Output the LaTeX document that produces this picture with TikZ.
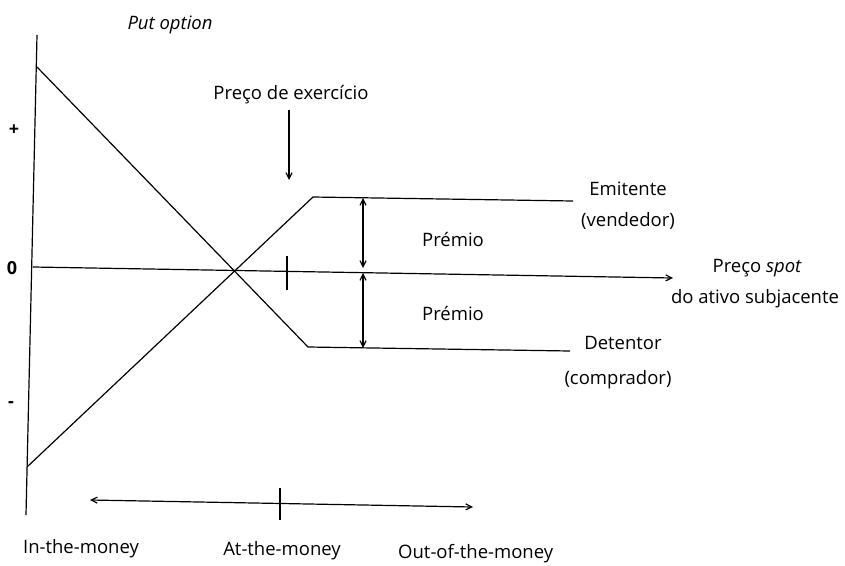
\documentclass[tikz,border=0pt]{standalone}
\usepackage{fontspec}
\setmainfont{Open Sans}
\usetikzlibrary{arrows.meta}
\begin{document}
\begin{tikzpicture}[x=1pt,y=-1pt,
  curve/.style={line width=1.2pt},
  axisline/.style={line width=1.2pt},
  tip/.style={-{Straight Barb[length=6pt,width=6pt]}},
  dtip/.style={{Straight Barb[length=6pt,width=6pt]}-{Straight Barb[length=6pt,width=6pt]}},
  lbl/.style={font=\fontsize{18.5}{20}\selectfont, inner sep=0pt},
  sgn/.style={font=\fontsize{18}{20}\selectfont\bfseries, inner sep=0pt}]
\useasboundingbox (0,0) rectangle (845,565);
% axes
\coordinate (ytop) at (37,35);
\coordinate (ybot) at (26,515);
\draw[axisline] (ytop) -- (ybot);
\coordinate (xstart) at (33,267);
\coordinate (xend) at (673,278);
\draw[axisline,tip] (xstart) -- (xend);
% holder (Detentor)
\coordinate (h1) at (37,67);
\coordinate (h2) at (308,347);
\coordinate (h3) at (570,351);
\draw[curve] (h1) -- (h2) -- (h3);
% writer (Emitente)
\coordinate (w1) at (27,467);
\coordinate (w2) at (313,197);
\coordinate (w3) at (573,201);
\draw[curve] (w1) -- (w2) -- (w3);
% strike tick
\coordinate (t1) at (287,256);
\coordinate (t2) at (287,290);
\draw[axisline] (t1) -- (t2);
% strike arrow
\node[lbl] (strike) at (291,95) {Preço de exercício};
\coordinate (sa) at (289,180);
\draw[axisline,tip] (289,110) -- (sa);
% premium arrows
\coordinate (p1) at (363,198);
\coordinate (p2) at (363,268);
\coordinate (p3) at (363,273);
\coordinate (p4) at (363,348);
\draw[axisline,dtip] (p1) -- (p2);
\draw[axisline,dtip] (p3) -- (p4);
% moneyness arrow
\coordinate (m1) at (90,500);
\coordinate (m2) at (473,507);
\draw[axisline,dtip] (m1) -- (m2);
\coordinate (mt1) at (280,488);
\coordinate (mt2) at (280,520);
\draw[axisline] (mt1) -- (mt2);
% labels
\node[lbl] (title) at (170,25) {\itshape Put option};
\node[sgn] (plus) at (14,130) {+};
\node[sgn] (zero) at (12,268) {0};
\node[sgn] (minus) at (11,405) {-};
\node[lbl] (prem1) at (453,239) {Prémio};
\node[lbl] (prem2) at (453,313) {Prémio};
\node[lbl] (emit) at (628,189) {Emitente};
\node[lbl] (vend) at (628,221) {(vendedor)};
\node[lbl] (spot) at (757,268) {Preço \itshape spot};
\node[lbl] (ativo) at (755,299) {do ativo subjacente};
\node[lbl] (det) at (623,343) {Detentor};
\node[lbl] (comp) at (618,380) {(comprador)};
\node[lbl] (itm) at (81,549) {In-the-money};
\node[lbl] (atm) at (282,551) {At-the-money};
\node[lbl,anchor=west] (otm) at (398,554) {Out-of-the-money};
\end{tikzpicture}
\end{document}
